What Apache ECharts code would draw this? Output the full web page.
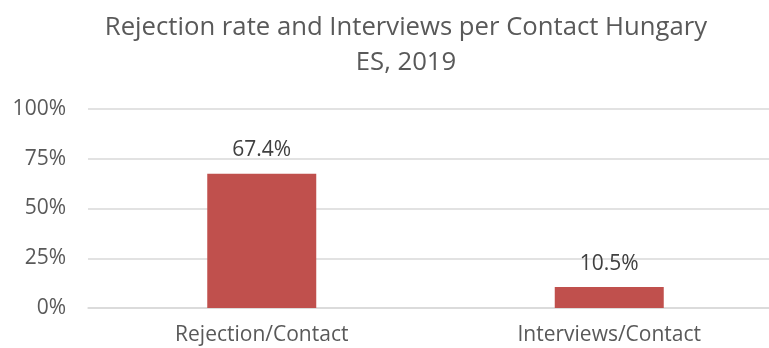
<!DOCTYPE html>
<html><head><meta charset="utf-8">
<script src="https://cdn.jsdelivr.net/npm/echarts@6/dist/echarts.min.js"></script>
<style>html,body{margin:0;padding:0;background:#fff;overflow:hidden;width:769px;height:348px}#c{width:783px;height:348px}</style>
</head><body><div id="c"></div>
<script>
const categories = ["Rejection/Contact", "Interviews/Contact"];
const values = [67.4, 10.5];
const yTicks = [0, 25, 50, 75, 100];

const chart = echarts.init(document.getElementById('c'));
chart.setOption({
  animation: false,
  title: {
    text: "Rejection rate and Interviews per Contact Hungary\nES, 2019",
    left: 401, top: 5, textAlign: 'center',
    textStyle: { fontFamily: 'Open Sans', fontSize: 25.7, fontWeight: 'normal', color: '#595959', lineHeight: 35 }
  },
  grid: { left: 88, right: 0, top: 109, bottom: 40, containLabel: false },
  xAxis: {
    type: 'category', data: categories,
    axisLine: { lineStyle: { color: '#d9d9d9', width: 1.5 } },
    axisTick: { show: false },
    axisLabel: { fontFamily: 'Open Sans', fontSize: 21, color: '#595959', margin: 17 }
  },
  yAxis: {
    type: 'value', min: yTicks[0], max: yTicks[yTicks.length - 1], interval: 25,
    axisLine: { show: false }, axisTick: { show: false },
    splitLine: { lineStyle: { color: '#d9d9d9', width: 1.5 } },
    axisLabel: { fontFamily: 'Open Sans', fontSize: 21, color: '#595959', margin: 22, formatter: v => v + '%' }
  },
  series: [{
    type: 'bar', data: values, barWidth: 109,
    itemStyle: { color: '#C0504D' },
    label: { show: true, position: 'top', distance: 13, fontFamily: 'Open Sans', fontSize: 21, color: '#404040', formatter: p => p.value.toFixed(1) + '%' }
  }]
});
</script></body></html>
